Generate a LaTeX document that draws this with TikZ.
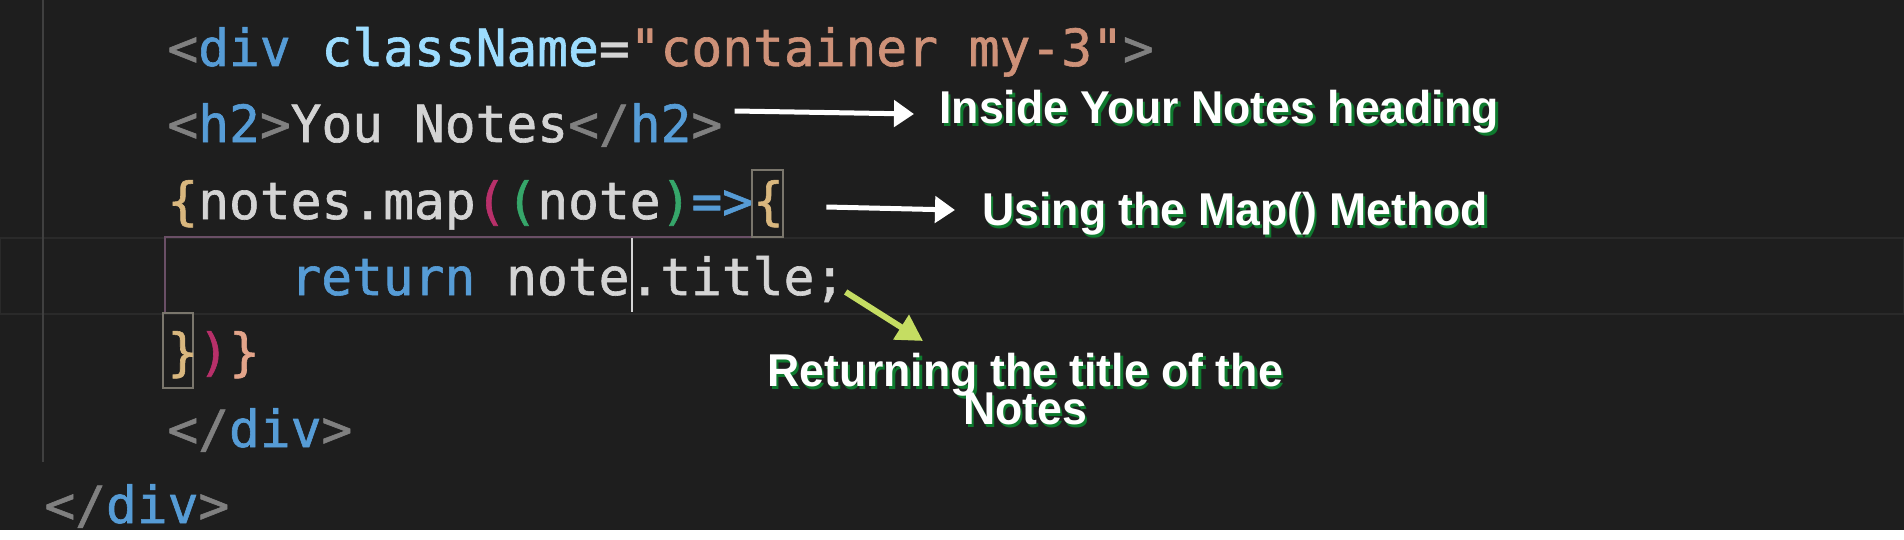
\documentclass[tikz,border=0pt]{standalone}
\usepackage{fontspec}
\setmonofont{DejaVu Sans Mono}[FakeBold=1.2]
\newfontfamily\notefont[FakeStretch=0.97]{Liberation Sans}
\usetikzlibrary{positioning, arrows.meta}

\definecolor{editorbg}{HTML}{1E1E1E}
\definecolor{guidegray}{HTML}{404040}
\definecolor{linehl}{HTML}{2A2A2A}
\definecolor{pairguide}{HTML}{6A4F66}
\definecolor{pairbox}{HTML}{7A766C}
\definecolor{tagcol}{HTML}{808080}
\definecolor{kwblue}{HTML}{569CD6}
\definecolor{attrblue}{HTML}{9CDCFE}
\definecolor{strcol}{HTML}{CE9178}
\definecolor{codewhite}{HTML}{D4D4D4}
\definecolor{braceone}{HTML}{D9B77E}
\definecolor{bracetwo}{HTML}{B8306A}
\definecolor{bracethree}{HTML}{36A66A}
\definecolor{bracefour}{HTML}{E3A48A}
\definecolor{notegreen}{HTML}{0E7A2E}
\definecolor{limearrow}{HTML}{C5DD62}

\newcommand{\tagc}[1]{\textcolor{tagcol}{#1}}
\newcommand{\kw}[1]{\textcolor{kwblue}{#1}}
\newcommand{\shadowtext}[1]{\makebox[0pt][l]{\hspace{1.2pt}\raisebox{-1.5pt}{\textcolor{notegreen}{#1}}}#1}
\newcommand{\notesize}{\fontsize{23}{19}\selectfont\setlength{\lineskiplimit}{-30pt}}

\begin{document}
\begin{tikzpicture} [
        x=0.5pt, y=-0.5pt,
        code/.style={font=\ttfamily\fontsize{25.6}{30}\selectfont, text=codewhite, inner sep=0pt, anchor=base west},
        note/.style={font=\notefont\bfseries\notesize, text=white, inner sep=0pt},
        whiteline/.style={draw=white, line width=2.5pt, -{Triangle[width=13pt,length=10pt]}},
        limeline/.style={draw=limearrow, line width=3pt, -{Triangle[width=14pt,length=13pt]}}
    ]
        \useasboundingbox (0,0) rectangle (1904,540);
        % Editor
        \fill[editorbg] (0,0) rectangle (1904,530);
        \fill[white] (0,530) rectangle (1904,540);
        \draw[linehl, line width=1pt] (0,238) rectangle (1904,314);
        \draw[guidegray, line width=1pt] (43,0) -- (43,462);
        \draw[pairguide, line width=1.2pt] (752,237) -- (165,237) -- (165,313);
        \draw[pairbox, line width=1pt] (752,170) rectangle (783,237);
        \draw[pairbox, line width=1pt] (163,313) rectangle (193,388);
        \draw[codewhite, line width=0.8pt] (632,238) -- (632,312);

        % Nodes
        \node[code] (divopen) at (167,66) {\tagc{<}\kw{div} \textcolor{attrblue}{className}=\textcolor{strcol}{"container my-3"}\tagc{>}};
        \node[code] (heading) at (167,142) {\tagc{<}\kw{h2}\tagc{>}You Notes\tagc{</}\kw{h2}\tagc{>}};
        \node[code] (maploop) at (167,219) {\textcolor{braceone}{\{}notes.map\textcolor{bracetwo}{(}\textcolor{bracethree}{(}note\textcolor{bracethree}{)}\kw{=>}\textcolor{braceone}{\{}};
        \node[code] (returnline) at (290,295) {\kw{return} note.title;};
        \node[code] (mapclose) at (167,370) {\textcolor{braceone}{\}}\textcolor{bracetwo}{)}\textcolor{bracefour}{\}}};
        \node[code] (divclose) at (167,447) {\tagc{</}\kw{div}\tagc{>}};
        \node[code] (outerclose) at (44,523) {\tagc{</}\kw{div}\tagc{>}};

        \node[note, anchor=base west] (headnote) at (939,124) {\shadowtext{Inside Your Notes heading}};
        \node[note, anchor=base west] (mapnote) at (982,225) {\shadowtext{Using the Map() Method}};
        \node[note, align=center, anchor=north] (retnote) at (1025,353) {\shadowtext{Returning the title of the}\\\shadowtext{Notes}};

        % Paths
        \path [whiteline] ([xshift=6pt,yshift=15.5pt]heading.base east) -- ([xshift=-12.5pt,yshift=5pt]headnote.base west);
        \path [whiteline] ([xshift=21pt,yshift=6pt]maploop.base east) -- ([xshift=-13.5pt,yshift=7.5pt]mapnote.base west);
        \path [limeline] ([yshift=1.5pt]returnline.base east) -- ([xshift=-51pt,yshift=6pt]retnote.north);
    \end{tikzpicture}
\end{document}
